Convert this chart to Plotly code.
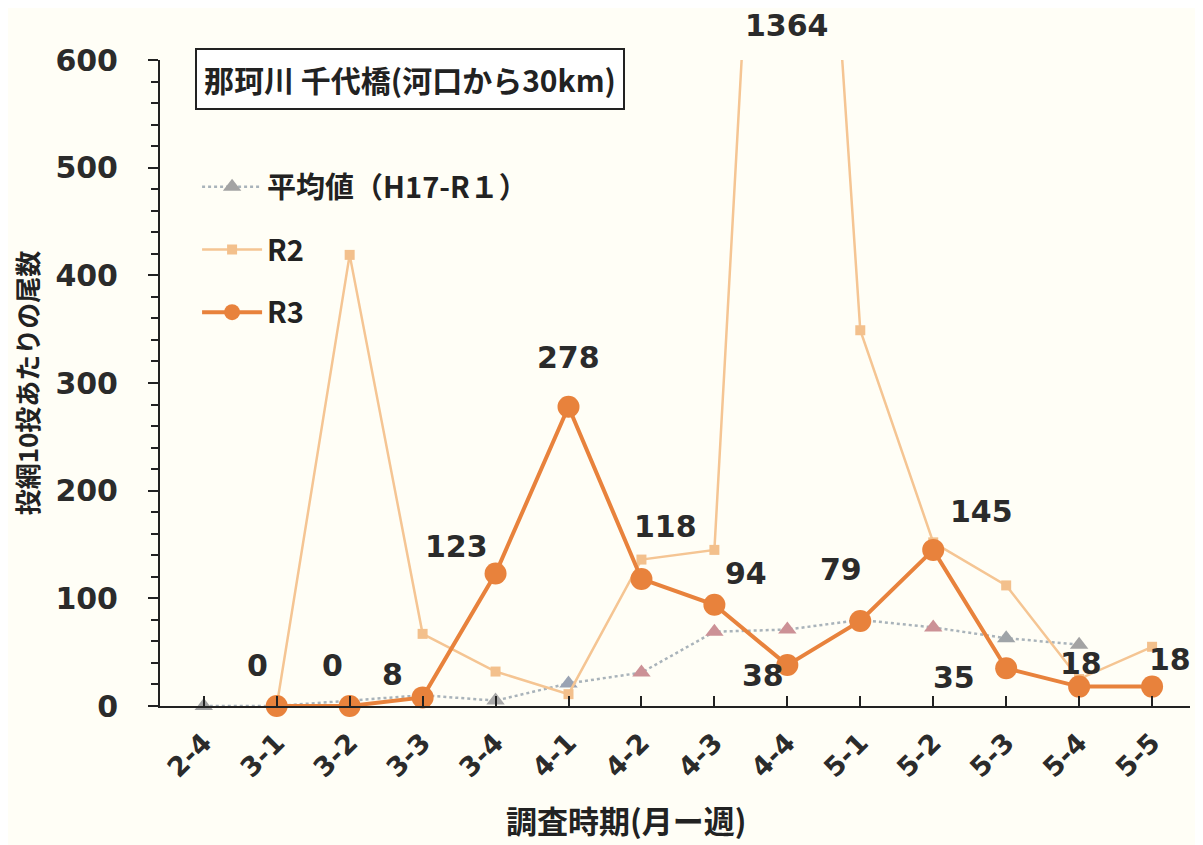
import plotly.graph_objects as go

categories = ["2-4", "3-1", "3-2", "3-3", "3-4", "4-1", "4-2", "4-3", "4-4", "5-1", "5-2", "5-3", "5-4", "5-5"]
avg_values = [0, 0, None, 10, 5, 21, 31, 69, 71, 80, 73, 63, 57, None]
r2_values = [None, 0, 419, 67, 32, 11, 136, 145, 1364, 349, 152, 112, 25, 55]
r3_values = [None, 0, 0, 8, 123, 278, 118, 94, 38, 79, 145, 35, 18, 18]
r3_labels = ["", "0", "0", "8", "123", "278", "118", "94", "38", "79", "145", "35", "18", "18"]
r2_peak_label = "1364"
y_ticks = [0, 100, 200, 300, 400, 500, 600]

avg_colors = ["#a3a3a3", "#a3a3a3", "#a3a3a3", "#a3a3a3", "#a9a9a9", "#9aa3b3",
              "#cc9196", "#cc9196", "#cc9196", "#cc9196", "#cc9196", "#9fa4a8", "#a3a3a3", "#a3a3a3"]

# label offsets (pixels) for the R3 value labels
label_dx = [0, -19, -17, -30, -39, 0, 24, 32, -24, -19, 48, -52, 2, 18]
label_dy = [0, 41, 41, 23, 27, 49, 52, 31, -10, 51, 38, -9, 23, 27]

fig = go.Figure()

fig.add_trace(go.Scatter(
    x=categories, y=avg_values, name="平均値（H17-R１）", mode="lines+markers",
    legendgroup="avg",
    line=dict(color="#a9b3ba", width=2.5, dash="dot"),
    marker=dict(symbol="triangle-up", size=16, color=avg_colors),
    connectgaps=True, cliponaxis=False,
))
fig.add_trace(go.Scatter(
    x=categories, y=r2_values, name="R2", mode="lines+markers",
    legendgroup="r2",
    line=dict(color="#f5c593", width=2.5),
    marker=dict(symbol="square", size=10, color="#f3c08c"),
    cliponaxis=True,
))
fig.add_trace(go.Scatter(
    x=categories, y=r3_values, name="R3", mode="lines+markers",
    legendgroup="r3",
    line=dict(color="#e8823c", width=4),
    marker=dict(symbol="circle", size=22, color="#e8823c"),
    cliponaxis=False,
))

label_font = dict(family="DejaVu Sans", size=30, color="#2b2b2b", weight="bold")
annotations = []
for i, (c, v, t) in enumerate(zip(categories, r3_values, r3_labels)):
    if v is None or t == "":
        continue
    annotations.append(dict(
        x=c, y=v, text=t, showarrow=False, xref="x", yref="y",
        xshift=label_dx[i], yshift=label_dy[i], font=label_font,
    ))
annotations.append(dict(
    x=categories[8], y=600, text=r2_peak_label, showarrow=False, xref="x", yref="y",
    yshift=35, font=label_font,
))
annotations.append(dict(
    x=0.243, y=0.97, xref="paper", yref="paper", showarrow=False,
    xanchor="center", yanchor="middle",
    text="那珂川 千代橋(河口から30km)",
    font=dict(family="Noto Sans CJK JP", size=30, color="#222222", weight="bold"),
    bordercolor="#222222", borderwidth=2, borderpad=7, bgcolor="#ffffff",
))
annotations.append(dict(
    x=0.452, y=-0.176, xref="paper", yref="paper", showarrow=False,
    xanchor="center", yanchor="middle",
    text="調査時期(月ー週)",
    font=dict(family="Noto Sans CJK JP", size=31, color="#222222", weight="bold"),
))

fig.update_layout(
    width=1203, height=845,
    margin=dict(l=152, r=21, t=52, b=147),
    paper_bgcolor="#fffef6", plot_bgcolor="#fffef6",
    showlegend=True,
    legend=dict(x=0.036, y=0.843, xanchor="left", yanchor="top",
                font=dict(family="Noto Sans CJK JP", size=29, color="#222222", weight="bold"),
                bgcolor="rgba(0,0,0,0)", tracegroupgap=22, itemwidth=60,
                traceorder="grouped"),
    annotations=annotations,
)

fig.update_xaxes(
    type="category", categoryorder="array", categoryarray=categories,
    range=[-0.6, 13.52], showgrid=False, zeroline=False,
    showline=True, linecolor="#222222", linewidth=2,
    ticks="inside", ticklen=10, tickcolor="#222222", tickwidth=2,
    tickangle=-45, ticklabelstandoff=8,
    tickfont=dict(family="DejaVu Sans", size=27, color="#2b2b2b", weight="bold"),
)
fig.update_yaxes(
    range=[0, 600], tickvals=y_ticks, showgrid=False, zeroline=False,
    showline=True, linecolor="#222222", linewidth=2,
    ticks="outside", ticklen=10, tickcolor="#222222", tickwidth=2,
    minor=dict(dtick=20, ticks="outside", ticklen=7, tickcolor="#222222", tickwidth=1.5),
    ticklabelstandoff=24,
    tickfont=dict(family="DejaVu Sans", size=30, color="#2b2b2b", weight="bold"),
    title=dict(text="投網10投あたりの尾数", standoff=14,
               font=dict(family="Noto Sans CJK JP", size=26, color="#222222", weight="bold")),
)

fig.write_html("out.html")
